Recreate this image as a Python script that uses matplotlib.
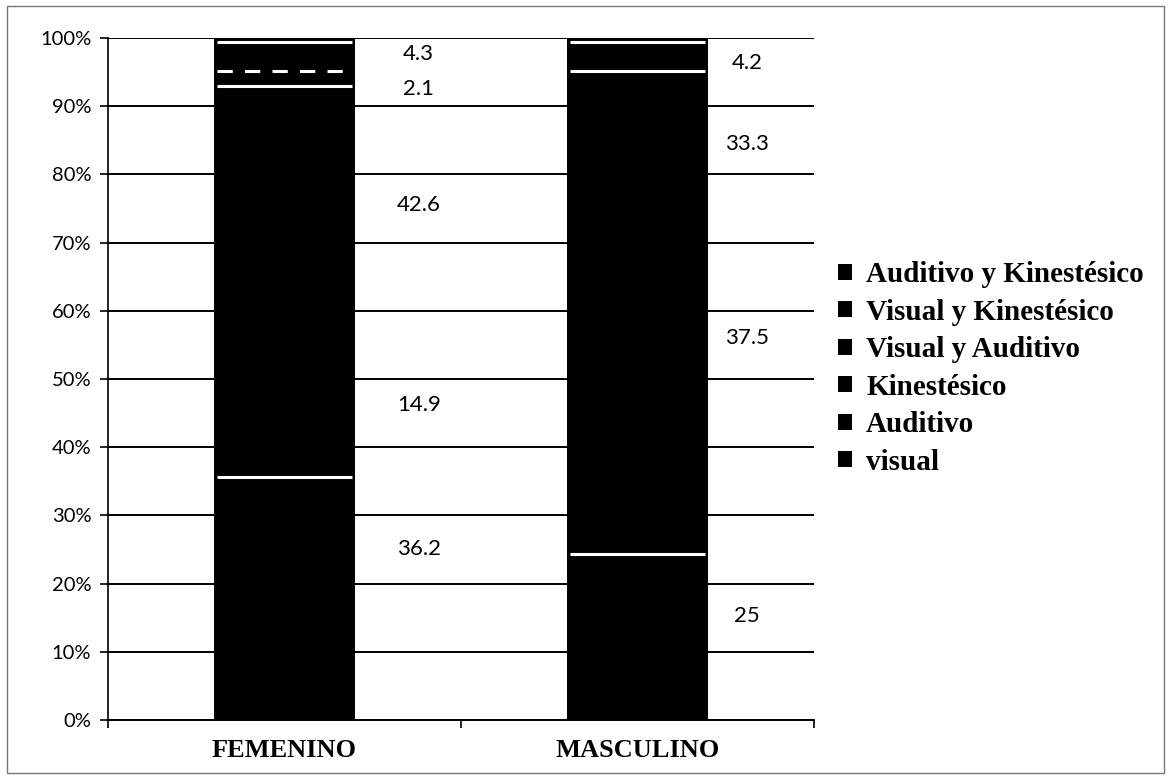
#!/usr/bin/env python3
# -*- coding: utf-8 -*-
"""
Estilos de aprendizaje por sexo — barra apilada al 100 %.

Output:
    out.png
"""

import numpy as np
import matplotlib
matplotlib.use("Agg")
import matplotlib.pyplot as plt
from matplotlib.patches import Rectangle

# ---- data ----
CATEGORIES = ["FEMENINO", "MASCULINO"]
SERIES = ["visual", "Auditivo", "Kinestésico", "Visual y Auditivo",
          "Visual y Kinestésico", "Auditivo y Kinestésico"]
visual = [36.2, 25]
auditivo = [14.9, 37.5]
kinestesico = [42.6, 33.3]
visual_auditivo = [2.1, 0]
visual_kinestesico = [0, 0]
auditivo_kinestesico = [4.3, 4.2]

# where the value labels sit (manually placed in the original, % units)
LABEL_Y = [
    [25.1, 46.2, 75.5, 92.5, None, 97.6],   # FEMENINO
    [15.3, 56.0, 84.4, None, None, 96.4],   # MASCULINO
]
LABEL_DX = [0.38, 0.31]

# series whose top edge shows a white separator in the scan
SEPARATED = ["visual", "Kinestésico", "Visual y Auditivo", "Auditivo y Kinestésico"]

values = np.array([visual, auditivo, kinestesico, visual_auditivo,
                   visual_kinestesico, auditivo_kinestesico], dtype=float)
pct = values / values.sum(axis=0) * 100.0   # 100 % stacked

fig = plt.figure(figsize=(11.71, 7.79), dpi=100)
ax = fig.add_axes([0.0922, 0.0757, 0.603, 0.8755])

x = np.arange(len(CATEGORIES))
width = 0.40
bottom = np.zeros(len(CATEGORIES))
for i, name in enumerate(SERIES):
    ax.bar(x, pct[i], width, bottom=bottom, color="black",
           linewidth=0, label=name, zorder=2)
    top = bottom + pct[i]
    if name in SEPARATED:
        for j in range(len(CATEGORIES)):
            if pct[i, j] <= 0:
                continue
            ls = (0, (5, 4)) if (name == "Visual y Auditivo") else "-"
            ax.hlines(top[j] - 0.6, x[j] - width / 2 + 0.01, x[j] + width / 2 - 0.01,
                      color="white", linewidth=2.2, linestyle=ls, zorder=3)
    bottom = top

# value labels
for j in range(len(CATEGORIES)):
    for i in range(len(SERIES)):
        ly = LABEL_Y[j][i]
        if ly is None:
            continue
        ax.text(x[j] + LABEL_DX[j], ly, f"{values[i, j]:g}", ha="center",
                va="center", fontsize=16, family="Lato", color="black")

# axes styling (Excel-like)
ax.set_xlim(-0.5, 1.5)
ax.set_ylim(0, 100)
ax.set_yticks(np.arange(0, 101, 10))
ax.set_yticklabels([f"{v}%" for v in range(0, 101, 10)], family="Lato",
                   fontsize=14.5)
ax.yaxis.grid(True, color="black", linewidth=1.4, zorder=0)
ax.set_axisbelow(True)
ax.tick_params(axis="y", direction="out", length=6, width=1.2, pad=6)

ax.set_xticks(x)
ax.set_xticklabels(CATEGORIES, family="Liberation Serif", fontweight="bold",
                   fontsize=19)
ax.set_xticks([-0.5, 0.5, 1.5], minor=True)
ax.tick_params(axis="x", which="major", length=0, pad=14)
ax.tick_params(axis="x", which="minor", direction="out", length=6, width=1.2)

for s in ["top", "right"]:
    ax.spines[s].set_visible(False)
ax.spines["left"].set_linewidth(1.2)
ax.spines["bottom"].set_linewidth(1.4)

handles, labels = ax.get_legend_handles_labels()
fig.legend(handles[::-1], labels[::-1], loc="center left",
           bbox_to_anchor=(0.716, 0.527), frameon=False,
           prop={"family": "Liberation Serif", "weight": "bold", "size": 21},
           handlelength=0.45, handleheight=0.45, handletextpad=0.5,
           labelspacing=0.36, borderpad=0, borderaxespad=0)

# thin frame around the whole chart
fig.patches.append(Rectangle((0.006, 0.008), 0.988, 0.984, transform=fig.transFigure,
                             fill=False, edgecolor="#777777", linewidth=1.0))

fig.savefig("out.png", dpi=100)
